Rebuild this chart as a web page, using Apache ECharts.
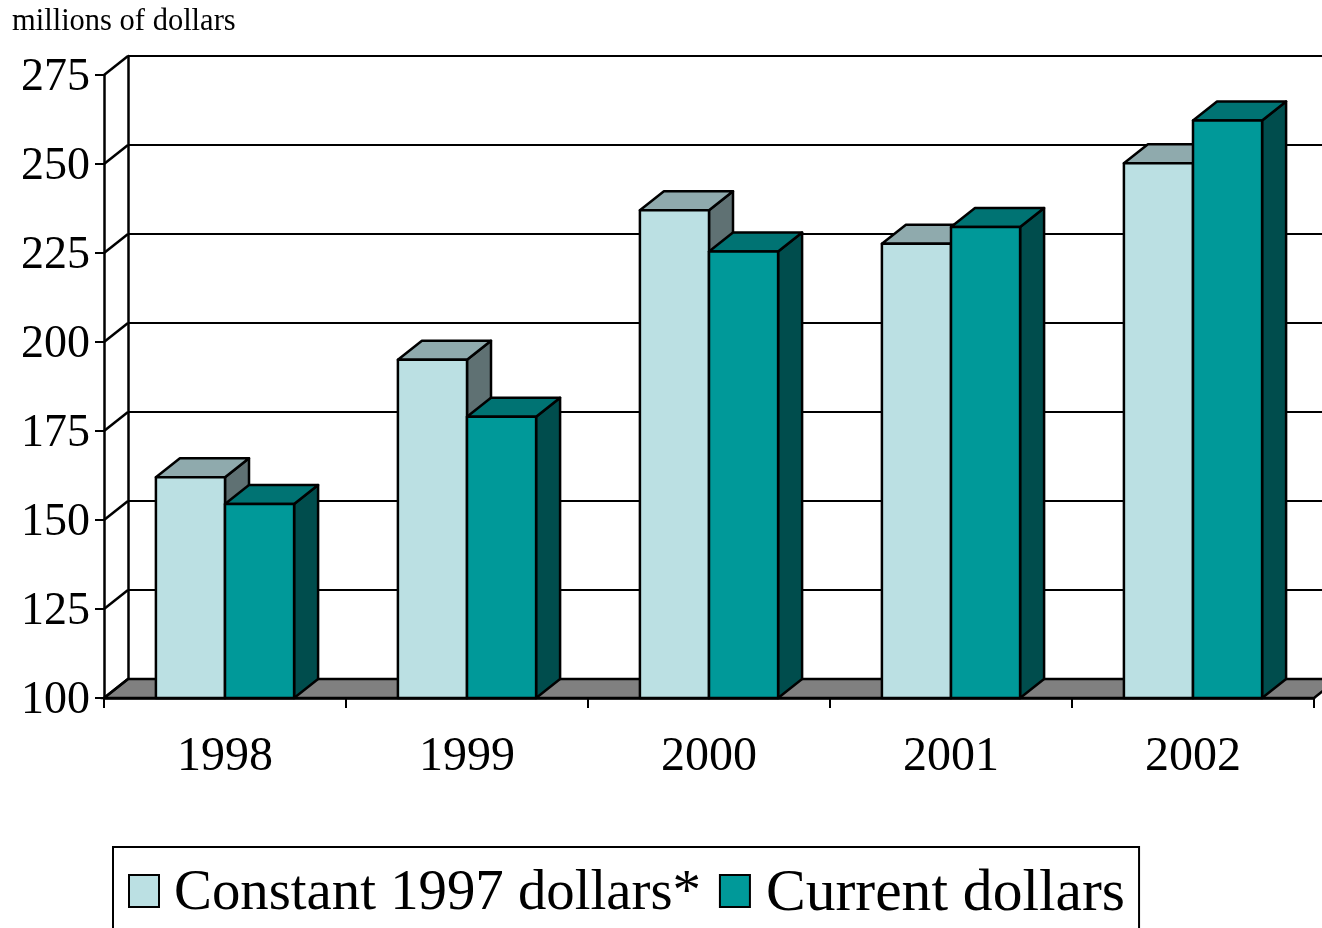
<!DOCTYPE html>
<html><head><meta charset="utf-8">
<style>html,body{margin:0;padding:0;background:#fff;overflow:hidden}#c{width:1322px;height:928px}</style>
<script src="https://cdn.jsdelivr.net/npm/echarts@6/dist/echarts.min.js"></script>
</head><body><div id="c"></div>
<script>
const categories = ['1998','1999','2000','2001','2002'];
const constantDollars = [162, 195, 237, 227.6, 250.2];
const currentDollars = [154.5, 179, 225.4, 232.3, 262.2];
const yTicks = [100,125,150,175,200,225,250,275];
const yMin = 100, yMax = 275, yStep = 25;
const FONT = '"Liberation Serif", serif';
const DX = 24, DY = 19, BAR_FRAC = 0.2855, LW = 2.5;

const chart = echarts.init(document.getElementById('c'), null, {renderer:'canvas'});

function barSeries(name, values, color, topCol, sideCol, side){
  return {
    name, type:'custom', xAxisIndex:0, yAxisIndex:0, z:5,
    itemStyle:{color, borderColor:'#000', borderWidth:LW},
    data: values.map((v,i)=>[i,v]),
    renderItem(params, api){
      const c = api.coord([api.value(0), api.value(1)]);
      const b = api.coord([api.value(0), yMin]);
      const w = api.size([1,0])[0]*BAR_FRAC;
      const x0 = side<0 ? c[0]-w : c[0], x1 = x0+w, t=c[1], bt=b[1];
      const st={stroke:'#000', lineWidth:LW, lineJoin:'round'};
      const poly=(pts,fill)=>({type:'polygon',shape:{points:pts},style:Object.assign({fill},st)});
      return {type:'group',children:[
        poly([[x1,t],[x1+DX,t-DY],[x1+DX,bt-DY],[x1,bt]], sideCol),
        poly([[x0,t],[x0+DX,t-DY],[x1+DX,t-DY],[x1,t]], topCol),
        poly([[x0,t],[x1,t],[x1,bt],[x0,bt]], color)
      ]};
    }
  };
}
const option = {
  animation:false,
  backgroundColor:'#fff',
  textStyle:{fontFamily:FONT,color:'#000'},
  title:{text:'millions of dollars',left:12,top:6,padding:0,textStyle:{fontFamily:FONT,fontWeight:'normal',fontSize:30.5,color:'#000'}},
  legend:{
    left:113, top:847, orient:'horizontal',
    padding:[17,14,30,15], itemGap:18, itemWidth:30, itemHeight:32,
    borderColor:'#000', borderWidth:2, backgroundColor:'#fff',
    data:[{name:'Constant 1997 dollars*',icon:'rect'},{name:'Current dollars',icon:'rect'}],
    itemStyle:{borderColor:'#000',borderWidth:2},
    formatter:n => (n==='Current dollars'?'{b|':'{a|')+n+'}',
    textStyle:{fontFamily:FONT,color:'#000',
      rich:{
        a:{fontFamily:FONT,fontSize:56.8,color:'#000',padding:[6,0,0,10]},
        b:{fontFamily:FONT,fontSize:59.6,color:'#000',padding:[6,0,0,11]}
      }}
  },
  grid:[
    {left:104,width:1210,top:75,height:623,containLabel:false},
    {left:104+DX,width:1210,top:75-DY,height:623,containLabel:false}
  ],
  xAxis:[
    {type:'category',gridIndex:0,data:categories,boundaryGap:true,
     axisLine:{lineStyle:{color:'#000',width:LW}},
     axisTick:{show:true,alignWithLabel:false,length:10,lineStyle:{color:'#000',width:2}},
     axisLabel:{fontFamily:FONT,fontSize:48,color:'#000',margin:35}},
    {type:'category',gridIndex:1,data:categories,show:false}
  ],
  yAxis:[
    {type:'value',gridIndex:0,min:yMin,max:yMax,interval:yStep,
     axisLine:{show:true,lineStyle:{color:'#000',width:LW}},
     axisTick:{show:true,length:9,lineStyle:{color:'#000',width:2}},
     splitLine:{show:false},
     axisLabel:{margin:14,formatter:'{v|{value}}',
       rich:{v:{fontFamily:FONT,fontSize:46,color:'#000',padding:[6,0,0,0]}}}},
    {type:'value',gridIndex:1,min:yMin,max:yMax,interval:yStep,
     axisLine:{show:true,lineStyle:{color:'#000',width:LW}},
     axisTick:{show:false},axisLabel:{show:false},
     splitLine:{show:true,lineStyle:{color:'#000',width:2.2}}}
  ],
  series:[
    {type:'custom',xAxisIndex:0,yAxisIndex:0,z:1,silent:true,data:[[yMin]],
     renderItem(params,api){
       const half=api.size([1,0])[0]/2;
       const f=api.coord([0,yMin]), l=api.coord([categories.length-1,yMin]);
       const a=[f[0]-half,f[1]], b=[l[0]+half,l[1]];
       return {type:'polygon',shape:{points:[a,[a[0]+DX,a[1]-DY],[b[0]+DX,b[1]-DY],b]},
         style:{fill:'#808080',stroke:'#000',lineWidth:LW}};
     }},
    {type:'custom',xAxisIndex:0,yAxisIndex:0,z:2,silent:true,data:yTicks.map(v=>[v]),
     renderItem(params,api){
       const half=api.size([1,0])[0]/2;
       const p=api.coord([0,api.value(0)]);
       const a=[p[0]-half,p[1]];
       return {type:'line',shape:{x1:a[0],y1:a[1],x2:a[0]+DX,y2:a[1]-DY},style:{stroke:'#000',lineWidth:LW}};
     }},
    barSeries('Constant 1997 dollars*',constantDollars,'#BBE0E3','#8FAAAD','#5F7173',-1),
    barSeries('Current dollars',currentDollars,'#009999','#007373','#004D4D',1)
  ]
};
chart.setOption(option);
</script></body></html>
